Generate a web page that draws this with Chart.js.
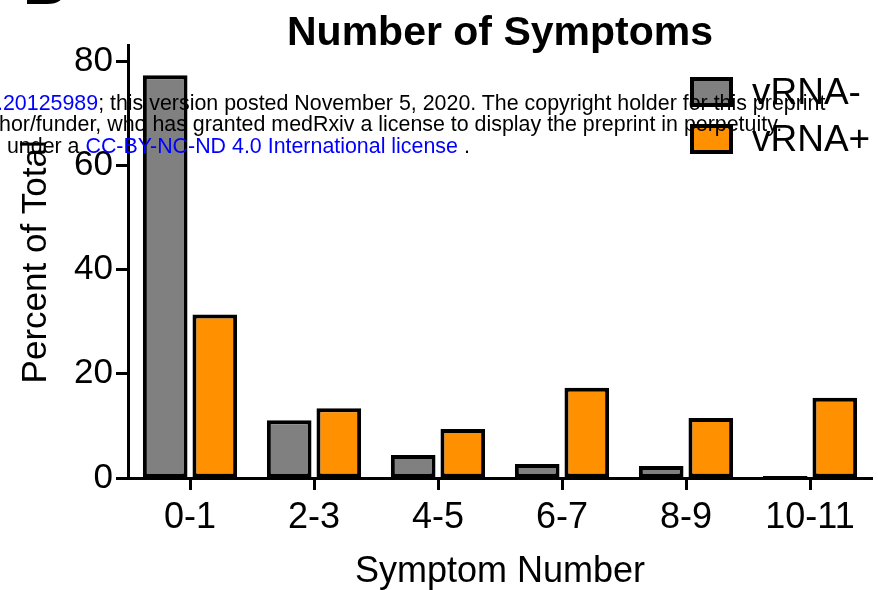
<!DOCTYPE html>
<html>
<head>
<meta charset="utf-8">
<script src="https://cdn.jsdelivr.net/npm/chart.js@4.4.1/dist/chart.umd.min.js"></script>
<style>
  body { margin: 0; background: #fff; }
  #wrap { position: relative; width: 878px; height: 590px; overflow: hidden; }
  #wrap canvas { position: absolute; left: 0; top: 0; }
  .wm { position: absolute; font-family: 'Liberation Sans', Arial, sans-serif; font-size: 21.4px;
        line-height: 21.4px; color: #000; white-space: pre; z-index: 2; }
  .wm a { color: #0000ff; text-decoration: none; }
  #panel { position: absolute; left: 23px; top: -46px; font: bold 60px/60px 'Liberation Sans', Arial, sans-serif; color: #000; }
</style>
</head>
<body>
<div id="wrap">
  <canvas id="chart" width="878" height="590"></canvas>
  <div id="panel">B</div>
  <div class="wm" style="left:-3px; top:93px;"><a>.20125989</a>; this version posted November 5, 2020. The copyright holder for this preprint</div>
  <div class="wm" style="left:-1px; top:114px;">hor/funder, who has granted medRxiv a license to display the preprint in perpetuity.</div>
  <div class="wm" style="left:1px; top:136px;"> under a <a>CC-BY-NC-ND 4.0 International license</a> .</div>
</div>
<script>
// symptom count bins
const categories = ['0-1', '2-3', '4-5', '6-7', '8-9', '10-11'];
const seriesNames = ['vRNA-', 'vRNA+'];
const vrnaNeg = [77.3, 11.1, 4.4, 2.7, 2.3, 0.4];
const vrnaPos = [31.4, 13.4, 9.4, 17.3, 11.5, 15.4];
const yTicks = [0, 20, 40, 60, 80];

const FONT = "'Liberation Sans', Arial, sans-serif";
Chart.defaults.font.family = FONT;
Chart.defaults.color = '#000';

// legend drawn inside the plot, top right, like the prism figure
const boxLegend = {
    id: 'boxLegend',
    afterDraw(chart) {
        const ctx = chart.ctx;
        const x = 690, w = 43, h = 30, b = 4;
        const rows = [77, 124];
        ctx.save();
        chart.data.datasets.forEach((ds, i) => {
            const y = rows[i];
            ctx.fillStyle = '#000';
            ctx.fillRect(x, y, w, h);
            ctx.fillStyle = ds.backgroundColor;
            ctx.fillRect(x + b, y + b, w - 2 * b, h - 2 * b);
            ctx.fillStyle = '#000';
            ctx.font = '37px ' + FONT;
            ctx.textBaseline = 'middle';
            ctx.textAlign = 'left';
            ctx.fillText(ds.label, 752, y + h / 2 + 2);
        });
        ctx.restore();
    }
};

new Chart(document.getElementById('chart'), {
    type: 'bar',
    data: {
        labels: categories,
        datasets: [{
            label: seriesNames[0],
            data: vrnaNeg,
            backgroundColor: '#808080',
            borderColor: '#000',
            borderWidth: 4,
            borderSkipped: false
        }, {
            label: seriesNames[1],
            data: vrnaPos,
            backgroundColor: '#ff9100',
            borderColor: '#000',
            borderWidth: 4,
            borderSkipped: false
        }]
    },
    options: {
        responsive: false,
        animation: false,
        layout: { padding: { left: 0, right: 6, top: 0, bottom: 0 } },
        datasets: { bar: { categoryPercentage: 0.8, barPercentage: 0.9 } },
        plugins: {
            legend: { display: false },
            tooltip: { enabled: false },
            title: {
                display: true,
                text: 'Number of Symptoms',
                fullSize: false,
                color: '#000',
                font: { size: 41, weight: 'bold', lineHeight: 0.6 },
                padding: { top: 21, bottom: 0 }
            }
        },
        scales: {
            x: {
                grid: { offset: false, drawOnChartArea: false, drawTicks: true, tickLength: 12, tickWidth: 3, tickColor: '#000' },
                border: { display: true, width: 3, color: '#000' },
                ticks: { font: { size: 36 }, color: '#000', padding: 6, maxRotation: 0 },
                title: { display: true, text: 'Symptom Number', font: { size: 36, lineHeight: 1 }, color: '#000', padding: { top: 0, bottom: 0 } },
                afterFit(scale) { scale.height = 112; }
            },
            y: {
                min: 0,
                max: 83,
                grid: { drawOnChartArea: false, drawTicks: true, tickLength: 12, tickWidth: 3, tickColor: '#000' },
                border: { display: true, width: 3, color: '#000' },
                ticks: { stepSize: 20, font: { size: 35 }, color: '#000', padding: 3 },
                afterBuildTicks(axis) {
                    axis.ticks = yTicks.map(v => ({ value: v }));
                },
                title: { display: true, text: 'Percent of Total', font: { size: 35 }, color: '#000', padding: { top: 15, bottom: 0 } },
                afterFit(scale) { scale.width = 128; }
            }
        }
    },
    plugins: [boxLegend]
});
</script>
</body>
</html>
